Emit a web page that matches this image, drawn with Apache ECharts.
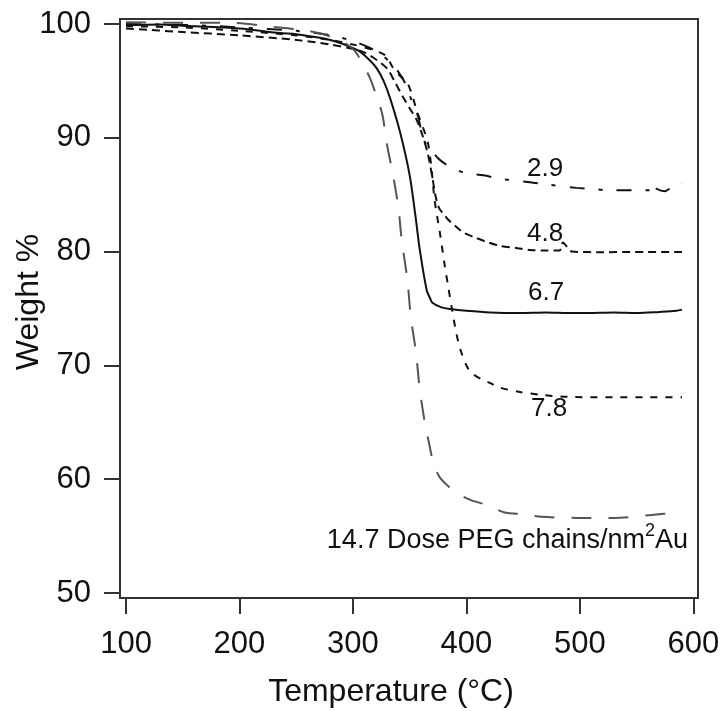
<!DOCTYPE html>
<html>
<head>
<meta charset="utf-8">
<script src="https://cdn.jsdelivr.net/npm/echarts@6/dist/echarts.min.js"></script>
<style>
html,body{margin:0;padding:0;background:#fff;}
#chart{width:722px;height:711px;}
</style>
</head>
<body>
<div id="chart"></div>
<script>
// ---- data (temperature °C, weight %) ----
var t29 = [100, 130, 160, 200, 250, 280, 300, 315, 325, 333, 340, 346, 352, 357, 361, 365, 369, 375, 380, 388, 400, 415, 430, 456, 471, 497, 511, 524, 551, 562, 564, 568, 575, 580, 586, 590];
var w29 = [100.0, 99.95, 99.9, 99.7, 99.4, 99.0, 98.5, 97.9, 97.3, 96.6, 95.8, 94.8, 93.2, 92.0, 90.3, 89.3, 88.9, 88.2, 87.8, 87.3, 86.9, 86.7, 86.4, 86.1, 85.9, 85.6, 85.5, 85.4, 85.4, 85.4, 86.0, 85.5, 85.3, 85.6, 86.0, 86.0];

var t48 = [100, 150, 200, 250, 280, 300, 310, 320, 330, 337, 344, 350, 356, 361, 366, 370, 373, 376, 380, 384, 392, 397, 406, 418, 430, 445, 456, 470, 482, 485, 488, 493, 520, 560, 590];
var w48 = [99.6, 99.3, 99.0, 98.6, 98.2, 97.8, 97.5, 96.9, 96.1, 94.9, 93.6, 92.6, 91.6, 90.3, 88.6, 86.5, 84.8, 83.8, 83.3, 82.8, 82.1, 81.7, 81.3, 80.85, 80.5, 80.3, 80.15, 80.1, 80.1, 80.8, 80.5, 80.0, 79.95, 79.97, 79.97];

var t67 = [100, 130, 150, 200, 236, 250, 280, 304, 315, 321, 327, 333, 341.5, 350, 355, 359, 365, 368, 370, 378, 386, 400, 421, 447, 470, 490, 506, 530, 550, 570, 585, 590];
var w67 = [99.9, 99.95, 99.85, 99.6, 99.2, 99.1, 98.6, 97.7, 96.8, 96.1, 95.0, 93.4, 90.5, 86.7, 83.2, 80.1, 76.6, 75.9, 75.5, 75.1, 74.95, 74.8, 74.65, 74.6, 74.65, 74.6, 74.6, 74.65, 74.6, 74.7, 74.8, 74.9];

var t78 = [100, 150, 200, 250, 280, 300, 315, 326, 330, 335, 341, 348, 352, 356.5, 361, 366, 369, 372, 376.7, 381, 384, 387, 390, 393, 396, 400.5, 405, 415, 421, 428, 445, 467, 494, 530, 560, 590];
var w78 = [99.8, 99.7, 99.4, 99.0, 98.6, 98.2, 97.8, 97.4, 97.1, 96.2, 95.5, 94.8, 93.8, 92.3, 91.1, 89.6, 87.5, 84.5, 81.6, 78.7, 76.9, 75.1, 73.4, 72.0, 71.0, 69.9, 69.3, 68.7, 68.45, 68.1, 67.7, 67.4, 67.22, 67.2, 67.2, 67.2];

var t147 = [100, 150, 192, 230, 260, 280, 295, 302, 308, 315, 321, 326, 330, 335, 340, 343, 348, 351, 355.6, 359, 364, 367, 371, 377, 390, 403, 419, 433, 451, 466, 498, 530, 563, 589];
var w147 = [100.15, 100.1, 100.1, 99.75, 99.4, 98.9, 98.2, 97.6, 96.6, 95.25, 93.6, 92.0, 89.4, 86.9, 83.9, 81.0, 77.5, 74.25, 71.1, 67.8, 64.6, 63.2, 61.4, 60.1, 58.9, 58.2, 57.7, 57.1, 56.9, 56.7, 56.6, 56.6, 56.85, 57.1];

var xTicks = [100, 200, 300, 400, 500, 600];
var yTicks = [50, 60, 70, 80, 90, 100];

// annotation texts and anchor points (data units)
var annoText = ['2.9', '4.8', '6.7', '7.8', '{a|14.7 Dose PEG chains/nm}{s|2}{a|Au}'];
var annoX = [469.3, 469.3, 470.2, 472.8, 277];
var annoY = [87.3, 81.55, 76.36, 66.17, 54.57];

function zip(a, b) { return a.map(function (v, i) { return [v, b[i]]; }); }

var FONT = '"Liberation Sans", Arial, sans-serif';
var TXT = '#111';

var chart = echarts.init(document.getElementById('chart'), null, {renderer: 'canvas'});

function lineSeries(name, t, w, color, type) {
  return {
    name: name, type: 'line', data: zip(t, w), showSymbol: false, symbol: 'none',
    smooth: 0.3, animation: false,
    lineStyle: {color: color, width: 2, type: type}
  };
}

var annoData = annoText.map(function (txt, i) {
  var last = i === annoText.length - 1;
  return {
    value: [annoX[i], annoY[i]],
    label: {
      show: true, formatter: txt,
      position: last ? 'right' : 'inside',
      distance: 0,
      color: TXT, fontFamily: FONT, fontSize: 26,
      textBorderWidth: 0, opacity: 1,
      rich: {
        a: {fontFamily: FONT, fontSize: 27, color: TXT},
        s: {fontFamily: FONT, fontSize: 18, color: TXT, verticalAlign: 'top', padding: [0, 0, 20, 0]}
      }
    }
  };
});

var option = {
  backgroundColor: '#fff',
  animation: false,
  grid: {left: 120, top: 19, right: 24, bottom: 113, show: true, borderColor: '#333', borderWidth: 2,
         backgroundColor: 'transparent', containLabel: false, outerBoundsMode: 'none'},
  xAxis: {
    type: 'value', min: 94.7, max: 604.1,
    name: 'Temperature (°C)', nameLocation: 'middle', nameGap: 78, nameMoveOverlap: false,
    nameTextStyle: {fontFamily: FONT, fontSize: 32, color: TXT, padding: [0, 36, 0, 0]},
    axisLine: {show: false},
    axisTick: {show: true, inside: false, length: 16, customValues: xTicks, lineStyle: {color: '#333', width: 2}},
    axisLabel: {show: true, customValues: xTicks, margin: 31, fontFamily: FONT, fontSize: 31, color: TXT},
    splitLine: {show: false}
  },
  yAxis: {
    type: 'value', min: 49.56, max: 100.44,
    name: 'Weight %', nameLocation: 'middle', nameGap: 75, nameMoveOverlap: false,
    nameTextStyle: {fontFamily: FONT, fontSize: 32, color: TXT, padding: [0, 0, 0, 13]},
    axisLine: {show: false},
    axisTick: {show: true, inside: false, length: 16, customValues: yTicks, lineStyle: {color: '#333', width: 2}},
    axisLabel: {show: true, customValues: yTicks, margin: 29, fontFamily: FONT, fontSize: 31, color: TXT},
    splitLine: {show: false}
  },
  series: [
    lineSeries('2.9', t29, w29, '#111', [15, 14, 4, 14]),
    lineSeries('4.8', t48, w48, '#111', [8, 5]),
    lineSeries('6.7', t67, w67, '#111', 'solid'),
    lineSeries('7.8', t78, w78, '#111', [7, 8]),
    lineSeries('14.7', t147, w147, '#555', [20, 17]),
    {
      type: 'scatter', data: annoData, symbolSize: 0, silent: true, animation: false,
      itemStyle: {color: '#111', opacity: 1}
    }
  ]
};
chart.setOption(option);
</script>
</body>
</html>
